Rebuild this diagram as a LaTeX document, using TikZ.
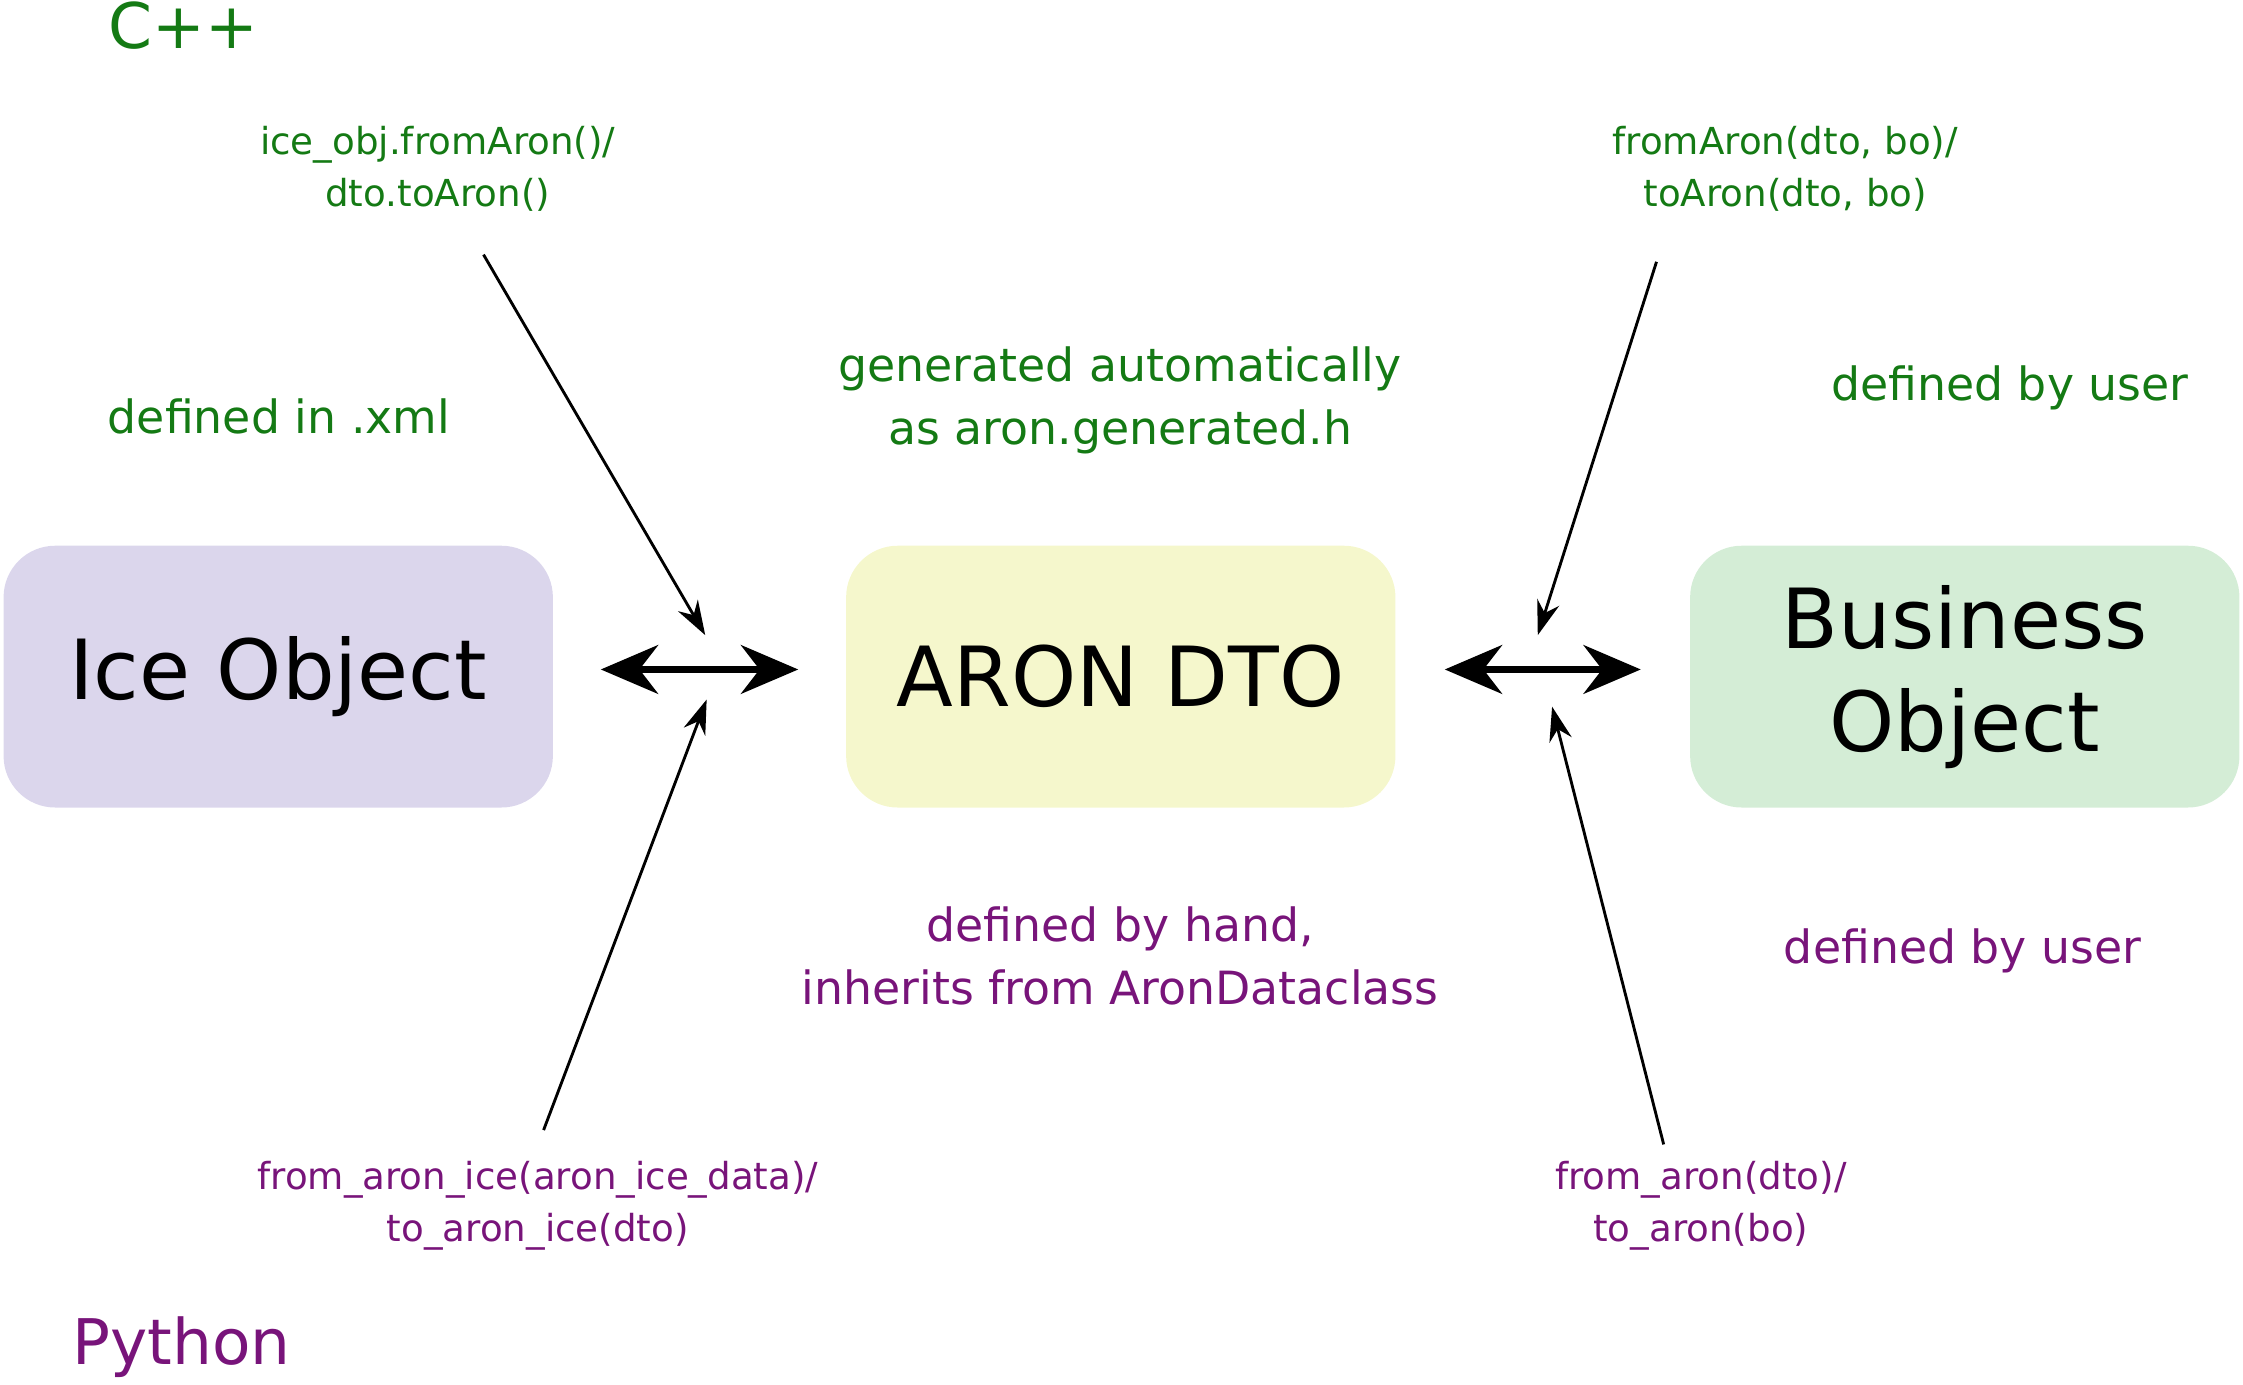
\documentclass[tikz,border=0pt]{standalone}
\usepackage{fontspec}
\setmainfont{DejaVu Sans}
\usetikzlibrary{arrows.meta}
\definecolor{cg}{RGB}{20,122,20}
\definecolor{cp}{RGB}{120,20,122}
\definecolor{fice}{RGB}{219,214,236}
\definecolor{faron}{RGB}{245,247,204}
\definecolor{fbo}{RGB}{212,237,214}
\tikzset{
 box/.style={rounded corners=36pt,minimum width=384pt,minimum height=183pt,align=center,font=\fontsize{58}{72}\selectfont,inner sep=0pt},
 lab/.style={align=center,font=\fontsize{26}{36}\selectfont,inner sep=0pt},
 note/.style={align=center,font=\fontsize{32}{44}\selectfont,inner sep=0pt},
 big/.style={font=\fontsize{44}{50}\selectfont,inner sep=0pt},
 dbl/.style={line width=5pt,{Stealth[length=40pt,width=34pt]}-{Stealth[length=40pt,width=34pt]}},
 thin/.style={line width=2pt,-{Stealth[length=24pt,width=16pt]}}
}
\begin{document}
\begin{tikzpicture}[x=1pt,y=-1pt]
\useasboundingbox (0,0) rectangle (1568,968);
\node[box,fill=fice] (ice) at (194.5,473) {Ice Object};
\node[box,fill=faron] (aron) at (783.5,473) {ARON DTO};
\node[box,fill=fbo] (bo) at (1373.5,473) {Business\\ Object};
\coordinate (a1) at (420,468); \coordinate (a2) at (558,468);
\coordinate (b1) at (1010,468); \coordinate (b2) at (1147,468);
\draw[dbl] (a1) -- (a2);
\draw[dbl] (b1) -- (b2);
\node[big,text=cg] (cpp) at (128,18) {C++};
\node[big,text=cp] (py) at (127,942) {Python};
\node[note,text=cg] (n1) at (195,291) {defined in .xml};
\node[note,text=cg] (n2) at (783,280) {generated automatically\\as aron.generated.h};
\node[note,text=cg] (n3) at (1405,271) {defined by user};
\node[note,text=cp] (n4) at (783,668) {defined by hand,\\inherits from AronDataclass};
\node[note,text=cp] (n5) at (1372,665) {defined by user};
\node[lab,text=cg] (l1) at (306,118) {ice\_obj.fromAron()/\\dto.toAron()};
\node[lab,text=cg] (l2) at (1248,118) {fromAron(dto, bo)/\\toAron(dto, bo)};
\node[lab,text=cp] (l3) at (376,843) {from\_aron\_ice(aron\_ice\_data)/\\to\_aron\_ice(dto)};
\node[lab,text=cp] (l4) at (1189,843) {from\_aron(dto)/\\to\_aron(bo)};
\coordinate (s1) at (338,178); \coordinate (e1) at (493,444);
\coordinate (s2) at (380,790); \coordinate (e2) at (494,489);
\coordinate (s3) at (1158,183); \coordinate (e3) at (1075,444);
\coordinate (s4) at (1163,800); \coordinate (e4) at (1085,494);
\draw[thin] (s1) -- (e1);
\draw[thin] (s2) -- (e2);
\draw[thin] (s3) -- (e3);
\draw[thin] (s4) -- (e4);
\end{tikzpicture}
\end{document}
